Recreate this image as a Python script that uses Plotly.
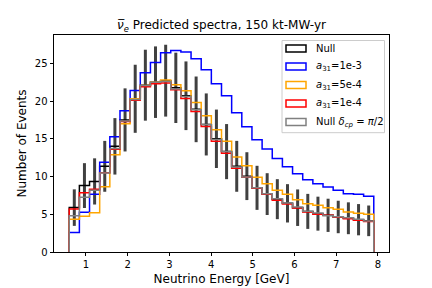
import numpy as np
import plotly.graph_objects as go

# ---- data ----
bin_edges = np.linspace(0.6, 7.9, 31)

null = [5.88, 8.80, 9.35, 11.35, 14.0, 17.5, 20.3, 22.1, 22.5, 22.7,
        21.75, 20.7, 18.9, 16.9, 15.0, 13.3, 11.35, 10.05, 8.5, 7.67,
        7.0, 6.45, 5.87, 5.38, 5.08, 4.86, 4.64, 4.47, 4.28, 4.13]
null_err = [2.42, 2.97, 3.06, 3.37, 3.74, 4.18, 4.51, 4.70, 4.74, 4.76,
            4.66, 4.55, 4.35, 4.11, 3.87, 3.65, 3.37, 3.17, 2.92, 2.77,
            2.65, 2.54, 2.42, 2.32, 2.25, 2.20, 2.15, 2.11, 2.07, 2.03]
a31_1e3 = [2.6, 5.26, 7.64, 11.88, 15.28, 18.7, 21.4, 23.75, 25.1, 26.4,
           26.7, 26.5, 25.6, 24.15, 22.3, 20.7, 18.45, 16.6, 14.88, 13.64,
           12.4, 11.3, 10.37, 9.58, 9.05, 8.6, 8.17, 7.73, 7.64, 7.37]
a31_5e4 = [4.33, 4.72, 5.21, 8.65, 12.9, 17.0, 20.3, 22.07, 22.5, 22.8,
           22.16, 21.37, 19.8, 18.06, 16.2, 14.66, 12.58, 11.43, 9.89, 9.05,
           8.17, 7.64, 6.93, 6.4, 6.18, 5.87, 5.65, 5.3, 5.12, 4.99]
a31_1e4 = [5.7, 7.86, 8.3, 10.5, 13.6, 17.3, 20.1, 21.9, 22.3, 22.38,
           21.5, 20.35, 18.6, 16.64, 14.66, 13.07, 11.08, 9.9, 8.43, 7.64,
           6.84, 6.36, 5.83, 5.3, 5.0, 4.86, 4.6, 4.4, 4.2, 4.05]
null_dcp = [4.8, 7.24, 8.17, 10.46, 13.7, 17.35, 20.2, 22.07, 22.5, 22.6,
            21.6, 20.6, 18.85, 16.9, 14.9, 13.3, 11.25, 9.93, 8.52, 7.73,
            7.06, 6.49, 5.96, 5.39, 5.17, 4.8, 4.68, 4.55, 4.33, 4.1]

labels = ["Null",
          "<i>a</i><sub>31</sub>=1e-3",
          "<i>a</i><sub>31</sub>=5e-4",
          "<i>a</i><sub>31</sub>=1e-4",
          "Null <i>δ</i><sub><i>cp</i></sub> = <i>π</i>/2"]
colors = ["black", "#0000ff", "#ffa500", "#ff0000", "#808080"]
series = [null, a31_1e3, a31_5e4, a31_1e4, null_dcp]

# ---- geometry (viewport pixels; page body has an 8px margin) ----
OFF = 8
VW, VH = 432, 288
W, H = VW - OFF, VH - OFF
AX_L, AX_R, AX_T, AX_B = 54, 389, 35, 252        # axes box in viewport px
ML, MR, MT, MB = AX_L - OFF, VW - AX_R, AX_T - OFF, VH - AX_B
PW, PH = AX_R - AX_L, AX_B - AX_T


def px(xv):
    return (xv - AX_L) / PW


def py(yv):
    return (AX_B - yv) / PH


edges = np.asarray(bin_edges)
centers = 0.5 * (edges[:-1] + edges[1:])

fig = go.Figure()

# error bars on null
fig.add_trace(go.Scatter(
    x=centers, y=null, mode="markers",
    marker=dict(size=0.1, color="rgba(0,0,0,0)"),
    error_y=dict(type="data", array=null_err, visible=True,
                 color="rgba(0,0,0,0.75)", thickness=3, width=0),
    showlegend=False, hoverinfo="skip"))

# step histograms
for vals, col, lab in zip(series, colors, labels):
    xs = [edges[0]] + list(edges[:-1]) + [edges[-1]]
    ys = [0] + list(vals) + [0]
    fig.add_trace(go.Scatter(x=xs, y=ys, mode="lines", line_shape="hv",
                             line=dict(color=col, width=1.5), name=lab,
                             showlegend=False, hoverinfo="skip"))

# ---- custom legend (matplotlib-like patch handles) ----
shapes = [dict(type="rect", xref="paper", yref="paper",
               x0=px(282), x1=px(384.5), y0=py(40.5), y1=py(132.7),
               fillcolor="rgba(255,255,255,0.8)",
               line=dict(color="#cccccc", width=1), layer="above")]
annotations = []
row_y = [48.5, 66.5, 85.0, 103.5, 122.0]
for ry, col, lab in zip(row_y, colors, labels):
    shapes.append(dict(type="rect", xref="paper", yref="paper",
                       x0=px(286), x1=px(306), y0=py(ry + 3.5), y1=py(ry - 3.5),
                       fillcolor="rgba(0,0,0,0)",
                       line=dict(color=col, width=1.5), layer="above"))
    annotations.append(dict(text=lab, xref="paper", yref="paper",
                            x=px(314), y=py(ry), xanchor="left",
                            yanchor="middle", showarrow=False,
                            font=dict(size=10, color="black")))

fig.update_layout(
    width=W, height=H,
    margin=dict(l=ML, r=MR, t=MT, b=MB, pad=0),
    paper_bgcolor="white", plot_bgcolor="white",
    font=dict(family="DejaVu Sans", size=10, color="black"),
    title=dict(text="<i>ν̅</i><sub><i>e</i></sub> Predicted spectra, 150 kt-MW-yr",
               x=0.5, xref="paper", xanchor="center",
               y=1 - (25 - OFF) / H, yref="container", yanchor="middle",
               font=dict(size=12)),
    showlegend=False,
    shapes=shapes,
    annotations=annotations,
)
fig.update_xaxes(range=[0.235, 8.265], tickvals=[1, 2, 3, 4, 5, 6, 7, 8],
                 ticks="outside", ticklen=3.5, tickwidth=0.8, tickcolor="black",
                 showline=True, linecolor="black", linewidth=0.8, mirror=True,
                 showgrid=False, zeroline=False, automargin=False,
                 title=dict(text="Neutrino Energy [GeV]", standoff=5))
fig.update_yaxes(range=[0, 28.75], tickvals=[0, 5, 10, 15, 20, 25],
                 ticks="outside", ticklen=3.5, tickwidth=0.8, tickcolor="black",
                 showline=True, linecolor="black", linewidth=0.8, mirror=True,
                 showgrid=False, zeroline=False, automargin=False,
                 title=dict(text="Number of Events", standoff=5))

fig.write_html("out.html")
